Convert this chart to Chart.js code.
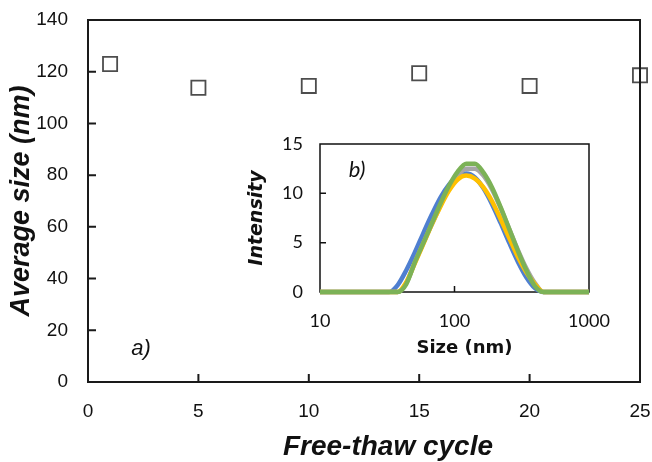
<!DOCTYPE html>
<html><head><meta charset="utf-8">
<script src="https://cdn.jsdelivr.net/npm/chart.js@4/dist/chart.umd.min.js"></script>
<style>
html,body{margin:0;padding:0;background:#fff;}
#wrap{position:relative;width:652px;height:462px;overflow:hidden;}
#main{position:absolute;left:0;top:0;}
#inset{position:absolute;left:240px;top:130px;}
</style>
</head><body>
<div id="wrap"><canvas id="main" width="652" height="462"></canvas><canvas id="inset" width="380" height="230"></canvas></div>
<script>
// ---- main panel a) data ----
const cycles = [1, 5, 10, 15, 20, 25];
const avgSize = [123.0, 113.8, 114.5, 119.4, 114.5, 118.6];
const xTicksMain = [0, 5, 10, 15, 20, 25];
const yTicksMain = [0, 20, 40, 60, 80, 100, 120, 140];

// ---- inset panel b) data (DLS intensity distributions) ----
const sizeBins = [10, 32.7, 37.8, 43.8, 50.7, 58.8, 68.1, 78.8, 91.3, 105.7, 122.4, 141.8, 164.2, 190.1, 220.2, 255.0, 295.3, 342.0, 396.1, 458.7, 531.2, 1000];
const intBlue   = [0, 0, 0.7, 2.2, 4.0, 6.0, 7.9, 9.6, 10.9, 11.8, 12.0, 11.6, 10.5, 8.9, 7.0, 5.0, 3.1, 1.5, 0.4, 0, 0, 0];
const intGray   = [0, 0, 0, 0.9, 3.0, 5.0, 6.9, 8.8, 10.5, 11.8, 12.5, 12.5, 11.8, 10.4, 8.5, 6.4, 4.3, 2.4, 0.9, 0, 0, 0];
const intYellow = [0, 0, 0, 1.0, 2.9, 4.9, 6.9, 8.7, 10.3, 11.4, 11.8, 11.5, 10.6, 9.2, 7.4, 5.5, 3.6, 2.0, 0.8, 0, 0, 0];
const intGreen  = [0, 0, 0, 0.8, 3.0, 5.0, 7.0, 9.0, 10.8, 12.2, 13.0, 13.0, 12.1, 10.6, 8.6, 6.4, 4.2, 2.2, 0.6, 0, 0, 0];
const xTicksInset = [10, 100, 1000];
const yTicksInset = [0, 5, 10, 15];

const pts = (xs, ys) => xs.map((x, i) => ({x: x, y: ys[i]}));

const framePlugin = {
  id: 'framePlugin',
  draw(chart, o) {
    const ctx = chart.ctx, a = chart.chartArea;
    const xs = chart.scales.x, ys = chart.scales.y;
    ctx.save();
    ctx.strokeStyle = o.color; ctx.lineWidth = o.lineWidth;
    ctx.strokeRect(a.left, a.top, a.right - a.left, a.bottom - a.top);
    ctx.lineWidth = o.tickWidth;
    ctx.beginPath();
    xs.ticks.forEach(t => {
      const px = xs.getPixelForValue(t.value);
      if (px > a.left + 1 && px < a.right - 1) { ctx.moveTo(px, a.bottom); ctx.lineTo(px, a.bottom - o.tickLen); }
    });
    ys.ticks.forEach(t => {
      const py = ys.getPixelForValue(t.value);
      if (py > a.top + 1 && py < a.bottom - 1) { ctx.moveTo(a.left, py); ctx.lineTo(a.left + o.tickLen, py); }
    });
    ctx.stroke();
    ctx.restore();
  },
  // shift the horizontal axis title sideways (the title is centred on the scale's left/right)
  beforeDraw(chart, args, o) {
    const xs = chart.scales.x;
    if (o.xTitleShift) { xs.left += o.xTitleShift; xs.right += o.xTitleShift; }
  },
  beforeDatasetsDraw(chart, args, o) {
    const xs = chart.scales.x;
    if (o.xTitleShift) { xs.left -= o.xTitleShift; xs.right -= o.xTitleShift; }
    if (o.phase === 'before') this.draw(chart, o);
  },
  afterDatasetsDraw(chart, args, o) {
    if (o.phase !== 'before') this.draw(chart, o);
    if (o.label) {
      const ctx = chart.ctx;
      ctx.save();
      ctx.font = o.labelFont; ctx.fillStyle = '#111';
      ctx.textAlign = 'center'; ctx.textBaseline = 'middle';
      ctx.fillText(o.label, o.labelX, o.labelY);
      ctx.restore();
    }
  }
};

const fitX = h => s => { s.height = h; s.paddingLeft = 0; s.paddingRight = 0; s.paddingTop = 0; s.paddingBottom = 0; };
const fitY = w => s => { s.width = w; s.paddingLeft = 0; s.paddingRight = 0; s.paddingTop = 0; s.paddingBottom = 0; };

new Chart(document.getElementById('main'), {
  type: 'scatter',
  data: { datasets: [{
    label: 'Average size',
    data: pts(cycles, avgSize),
    pointStyle: 'rect', pointRadius: 10, pointHoverRadius: 10,
    borderColor: '#4d4d4d', borderWidth: 1.8, backgroundColor: '#ffffff',
    showLine: false, clip: false
  }]},
  options: {
    responsive: false, animation: false, devicePixelRatio: 1,
    layout: { padding: { left: 0, right: 12, top: 20, bottom: 0 } },
    plugins: {
      legend: { display: false }, tooltip: { enabled: false },
      framePlugin: { phase: 'after', color: '#1a1a1a', lineWidth: 2, tickWidth: 2, tickLen: 8, xTitleShift: 24,
        label: 'a)', labelFont: 'italic 22px "Liberation Sans"', labelX: 141, labelY: 349 }
    },
    scales: {
      x: {
        type: 'linear', min: 0, max: 25,
        afterBuildTicks: s => { s.ticks = xTicksMain.map(v => ({ value: v })); },
        afterFit: fitX(80),
        grid: { display: false, drawTicks: false }, border: { display: false },
        ticks: { padding: 18, maxRotation: 0, color: '#111', font: { family: 'Liberation Sans', size: 19 } },
        title: { display: true, text: 'Free-thaw cycle', color: '#111', padding: 0,
          font: { family: 'Liberation Sans', size: 28, weight: 'bold', style: 'italic', lineHeight: 1.04 } }
      },
      y: {
        type: 'linear', min: 0, max: 140,
        afterBuildTicks: s => { s.ticks = yTicksMain.map(v => ({ value: v })); },
        afterFit: fitY(88),
        grid: { display: false, drawTicks: false }, border: { display: false },
        ticks: { padding: 20, color: '#111', font: { family: 'Liberation Sans', size: 19 } },
        title: { display: true, text: 'Average size (nm)', color: '#111', padding: 0,
          font: { family: 'Liberation Sans', size: 27, weight: 'bold', style: 'italic', lineHeight: 1.63 } }
      }
    }
  },
  plugins: [framePlugin]
});

const lineDs = (label, ys, color) => ({
  label: label, data: pts(sizeBins, ys), borderColor: color, backgroundColor: color,
  borderWidth: 4.5, pointRadius: 0, showLine: true, fill: false,
  cubicInterpolationMode: 'monotone', clip: false
});

// Chart.js draws dataset 0 on top, so the top-most curve (green) comes first
new Chart(document.getElementById('inset'), {
  type: 'scatter',
  data: { datasets: [
    lineDs('Cycle D', intGreen, '#7cb257'),
    lineDs('Cycle C', intYellow, '#ffc000'),
    lineDs('Cycle B', intGray, '#a6a6a6'),
    lineDs('Cycle A', intBlue, '#4f7fd0')
  ]},
  options: {
    responsive: false, animation: false, devicePixelRatio: 1,
    layout: { padding: { left: 0, right: 31, top: 14, bottom: 0 } },
    plugins: {
      legend: { display: false }, tooltip: { enabled: false },
      framePlugin: { phase: 'before', color: '#111', lineWidth: 1.5, tickWidth: 1.5, tickLen: 6, xTitleShift: 10,
        label: 'b)', labelFont: 'italic 22px Lato', labelX: 117, labelY: 40 }
    },
    scales: {
      x: {
        type: 'logarithmic', min: 10, max: 1000,
        afterBuildTicks: s => { s.ticks = xTicksInset.map(v => ({ value: v })); },
        afterFit: fitX(68),
        grid: { display: false, drawTicks: false }, border: { display: false },
        ticks: { padding: 18, maxRotation: 0, autoSkip: false, color: '#111', font: { family: 'Lato', size: 18 },
          callback: v => String(v) },
        title: { display: true, text: 'Size (nm)', color: '#111', padding: 0,
          font: { family: 'DejaVu Sans', size: 18, weight: 'bold', lineHeight: 1.33 } }
      },
      y: {
        type: 'linear', min: 0, max: 15,
        afterBuildTicks: s => { s.ticks = yTicksInset.map(v => ({ value: v })); },
        afterFit: fitY(80),
        grid: { display: false, drawTicks: false }, border: { display: false },
        ticks: { padding: 17, color: '#111', font: { family: 'Lato', size: 18 } },
        title: { display: true, text: 'Intensity', color: '#111', padding: 0,
          font: { family: 'DejaVu Sans', size: 19, weight: 'bold', style: 'italic', lineHeight: 1.84 } }
      }
    }
  },
  plugins: [framePlugin]
});
</script>
</body></html>
